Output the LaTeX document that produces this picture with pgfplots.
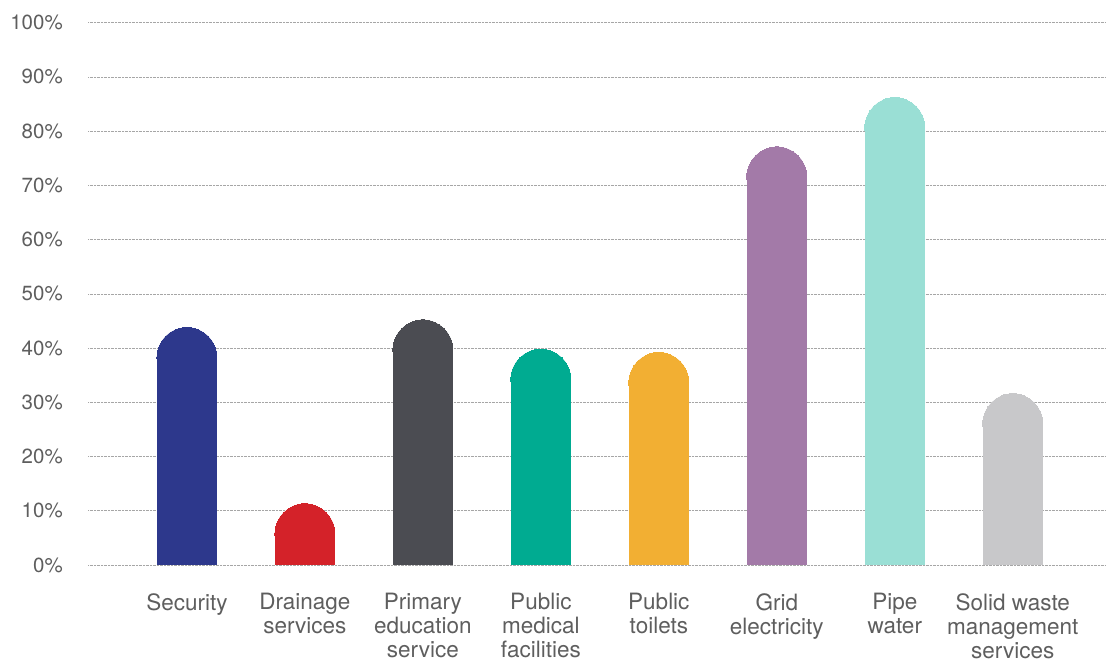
\documentclass[border=0pt]{standalone}
\usepackage{fontspec}
\setmainfont{TeX Gyre Heros}
\usepackage{pgfplots}
\pgfplotsset{compat=1.18}
\definecolor{cSec}{HTML}{2D388C}
\definecolor{cDra}{HTML}{D42229}
\definecolor{cPri}{HTML}{4B4C52}
\definecolor{cMed}{HTML}{00AB91}
\definecolor{cToi}{HTML}{F2AF33}
\definecolor{cGri}{HTML}{A37AA8}
\definecolor{cPip}{HTML}{9ADFD5}
\definecolor{cSol}{HTML}{C8C8CA}
\definecolor{txt}{HTML}{5E5E5E}
\definecolor{axl}{HTML}{707070}
\begin{document}
\begin{tikzpicture}
\begin{axis}[
  name=ax,
  scale only axis,
  width=1017.7pt, height=542.3pt,
  xmin=-0.836, xmax=7.79,
  ymin=0, ymax=100,
  ytick={0,10,...,100},
  yticklabel={\pgfmathprintnumber{\tick}\%},
  /pgf/number format/assume math mode=true,
  yticklabel style={font=\fontsize{20.5}{24}\selectfont, text=txt, anchor=east, xshift=-22pt},
  xtick={0,...,7},
  xticklabels={Security, Drainage\\services, Primary\\education\\service, Public\\medical\\facilities, Public\\toilets, Grid\\electricity, Pipe\\water, Solid waste\\management\\services},
  xticklabel style={font=\fontsize{22.5}{24}\selectfont, text=txt, align=center, anchor=north, yshift=-25pt},
  major tick length=0pt,
  ymajorgrids,
  grid style={densely dotted, gray!70, line width=0.6pt},
  x axis line style={axl, line width=1.2pt},
  y axis line style={draw=none},
  axis on top=false,
  clip=false,
  y filter/.expression={y-5.53},
  every axis plot/.append style={ycomb, line width=60pt, mark=*, mark size=30pt},
]
\addplot[color=cSec, mark options={draw=none, line width=0pt, fill=cSec}] coordinates {(0,43.8)};
\addplot[color=cDra, mark options={draw=none, line width=0pt, fill=cDra}] coordinates {(1,11.3)};
\addplot[color=cPri, mark options={draw=none, line width=0pt, fill=cPri}] coordinates {(2,45.2)};
\addplot[color=cMed, mark options={draw=none, line width=0pt, fill=cMed}] coordinates {(3,39.8)};
\addplot[color=cToi, mark options={draw=none, line width=0pt, fill=cToi}] coordinates {(4,39.2)};
\addplot[color=cGri, mark options={draw=none, line width=0pt, fill=cGri}] coordinates {(5,77.1)};
\addplot[color=cPip, mark options={draw=none, line width=0pt, fill=cPip}] coordinates {(6,86.2)};
\addplot[color=cSol, mark options={draw=none, line width=0pt, fill=cSol}] coordinates {(7,31.6)};
\end{axis}
\pgfresetboundingbox
\useasboundingbox (-88.3pt,-98pt) rectangle (1017.7pt,565pt);
\end{tikzpicture}
\end{document}
